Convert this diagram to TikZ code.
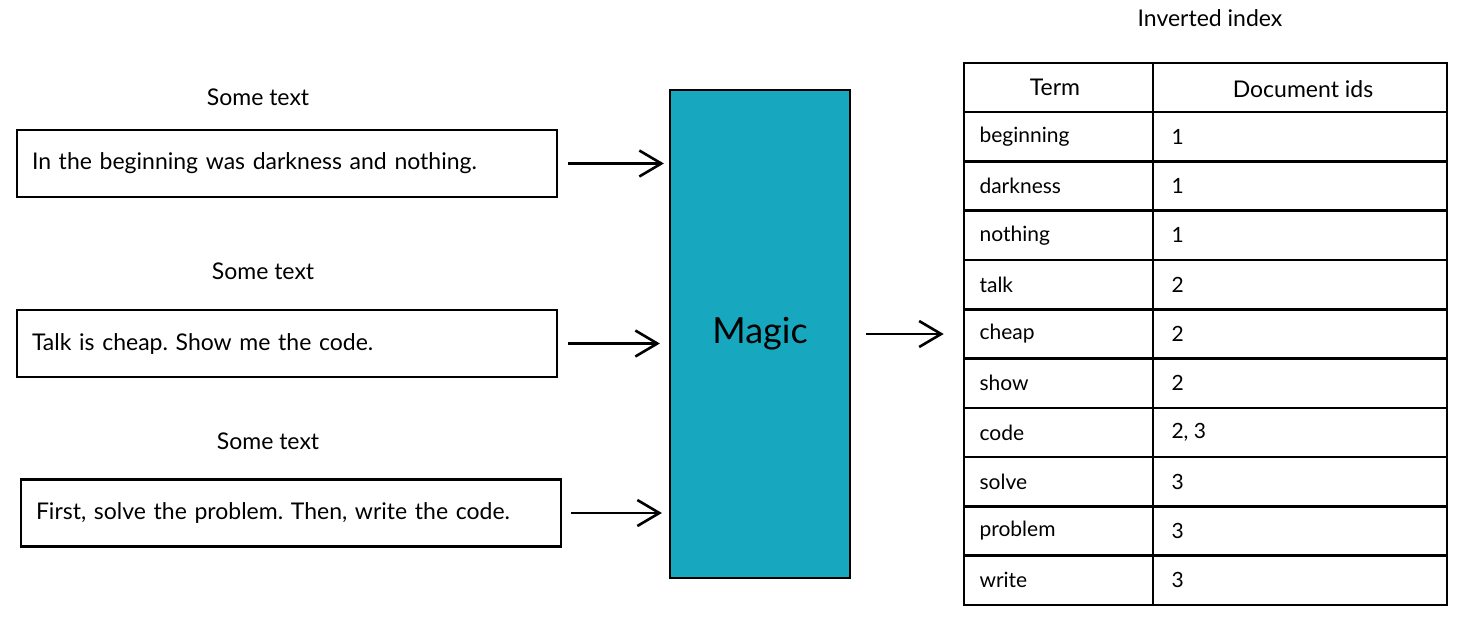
\documentclass[tikz,border=0pt]{standalone}
\usepackage{fontspec}
\setmainfont{Lato}
\usetikzlibrary{arrows.meta,positioning,calc}
\definecolor{teal2}{HTML}{17A8C0}
\frenchspacing

\begin{document}
\begin{tikzpicture}[
      x=1pt, y=-1pt,
      box/.style={draw, line width=2.4pt, text width=510pt, align=left,
        inner xsep=15pt, minimum height=67pt, font=\fontsize{23}{27}\selectfont},
      lbl/.style={font=\fontsize{23}{27}\selectfont},
      tbl/.style={draw, line width=2.6pt},
      cell/.style={font=\fontsize{21}{25}\selectfont, anchor=west},
      arr/.style={line width=2.6pt, -{Straight Barb[length=22pt,width=26pt,line width=2.6pt]}}
  ]
    \useasboundingbox (0,0) rectangle (1470,625);
    % input texts
    \node[lbl] (cap1) at (258,97) {Some text};
    \node[lbl] (cap2) at (263,271) {Some text};
    \node[lbl] (cap3) at (268,441) {Some text};
    \node[box] (src1) at (287,163.5) {In the beginning was darkness and nothing.};
    \node[box] (src2) at (287,343.5) {Talk is cheap. Show me the code.};
    \node[box] (src3) at (291,513) {First, solve the problem. Then, write the code.};
    % magic box
    \node[draw, line width=2.2pt, fill=teal2, minimum width=180pt, minimum height=488pt,
      font=\fontsize{36}{42}\selectfont] (magic) at (760,334) {Magic};
    \draw[arr, shorten <=10pt, shorten >=5pt] (src1.east) -- (src1.east -| magic.west);
    \draw[arr, shorten <=10pt, shorten >=9pt] (src2.east) -- (src2.east -| magic.west);
    \draw[arr, shorten <=9pt, shorten >=7pt] (src3.east) -- (src3.east -| magic.west);
    % inverted index
    \node[lbl] (title) at (1210,18) {Inverted index};
    \node[tbl, minimum width=483pt, minimum height=542pt, inner sep=0pt] (index) at (1205.5,334) {};
    \draw[arr, shorten <=15pt, shorten >=19pt] (magic.east) -- (index.west);
    \draw[tbl] (1153,63) -- (1153,605);
    \foreach \i in {0,...,9}
      \draw[tbl] (964,{112+49.3*\i}) -- (1447,{112+49.3*\i});
    \node[lbl] (term) at (1055,87) {Term};
    \node[lbl] (ids) at (1303,89) {Document ids};
    \foreach \t/\d [count=\i from 0] in {beginning/1, darkness/1, nothing/1, talk/2,
        cheap/2, show/2, code/{2, 3}, solve/3, problem/3, write/3} {
      \node[cell] (t\i) at (976,{136.6+49.3*\i}) {\t};
      \node[cell] (d\i) at (1168,{136.6+49.3*\i}) {\d};
    }
  \end{tikzpicture}
\end{document}
